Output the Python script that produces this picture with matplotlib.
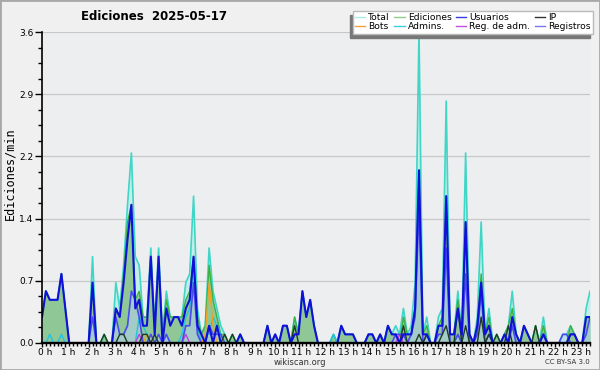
import numpy as np
import matplotlib.pyplot as plt
import matplotlib.transforms as mtransforms
from matplotlib.lines import Line2D
from matplotlib.patches import Rectangle

# 10-minute bins, values in edits per minute
n_bins = 142
hours = np.arange(n_bins) / 6

total = [
    .3, .6, .5, .5, .5, .8, .4, 0, 0, 0, 0, 0,
    0, 1.0, 0, 0, .1, 0, 0, .7, .4, .9, 1.6, 2.2,
    1.0, .9, .3, .3, 1.1, .2, 1.1, .1, .6, .3, .3, .3,
    .3, .7, .8, 1.7, .4, .1, .2, 1.1, .6, .4, .2, .1,
    0, .1, 0, .1, 0, 0, 0, 0, 0, 0, .2, 0,
    .1, 0, .2, .2, 0, .3, .1, .6, .3, .5, .2, 0,
    0, 0, 0, .1, 0, .2, .1, .1, .1, 0, 0, 0,
    .1, .1, 0, .1, 0, .2, .1, .2, .1, .4, .1, .2,
    .7, 3.6, .1, .3, 0, 0, .3, .4, 2.8, .1, .1, .6,
    .1, 2.2, .1, 0, .3, 1.4, .1, .4, 0, .1, 0, .1,
    .2, .6, .1, 0, .2, .1, 0, .2, 0, .3, 0, 0,
    0, 0, .1, .1, .2, .1, 0, 0, .4, .6,
]
edits = [
    .3, .6, .5, .5, .5, .8, .4, 0, 0, 0, 0, 0,
    0, .7, 0, 0, .1, 0, 0, .4, .3, .8, 1.4, 1.6,
    .5, .6, .3, .3, 1.0, .2, 1.0, .1, .5, .3, .3, .3,
    .3, .5, .6, 1.0, .3, .1, .2, .9, .5, .3, .1, .1,
    0, .1, 0, .1, 0, 0, 0, 0, 0, 0, .2, 0,
    .1, 0, .2, .2, 0, .3, .1, .6, .3, .5, .2, 0,
    0, 0, 0, .1, 0, .2, .1, .1, .1, 0, 0, 0,
    .1, .1, 0, .1, 0, .2, .1, .1, 0, .3, .1, .1,
    .4, 2.0, .1, .2, 0, 0, .2, .3, 1.7, .1, .1, .5,
    .1, 1.4, .1, 0, .2, .8, .1, .3, 0, .1, 0, .1,
    .2, .4, .1, 0, .2, .1, 0, .2, 0, .2, 0, 0,
    0, 0, 0, 0, .2, .1, 0, 0, .3, .3,
]
users = [
    .3, .6, .5, .5, .5, .8, .4, 0, 0, 0, 0, 0,
    0, .7, 0, 0, 0, 0, 0, .4, .3, .7, 1.2, 1.6,
    .4, .5, .2, .2, 1.0, .1, 1.0, 0, .4, .2, .3, .3,
    .2, .4, .5, 1.0, .2, .1, 0, .2, 0, .2, 0, 0,
    0, 0, 0, .1, 0, 0, 0, 0, 0, 0, .2, 0,
    .1, 0, .2, .2, 0, .1, .1, .6, .3, .5, .2, 0,
    0, 0, 0, 0, 0, .2, .1, .1, .1, 0, 0, 0,
    .1, .1, 0, .1, 0, .2, .1, .1, 0, .1, .1, .1,
    .4, 2.0, .1, .1, 0, 0, .2, .2, 1.7, .1, .1, .4,
    .1, 1.4, .1, 0, .2, .7, .1, .2, 0, 0, 0, .1,
    0, .3, .1, 0, .2, .1, 0, 0, 0, .1, 0, 0,
    0, 0, 0, 0, .1, .1, 0, 0, .3, .3,
]

# sparse series: bin index -> value
ip_bins = [16, 20, 21, 26, 27, 29, 47, 49, 65, 93, 97, 99, 103, 104, 107, 109, 113, 115, 117, 120, 127, 136, 137]
ip_vals = [.1, .1, .1, .1, .1, .1, .1, .1, .2, .2, .1, .1, .1, .2, .4, .2, .3, .1, .1, .2, .2, .1, .1]
bots_bins = [27, 42, 43, 44]
bots_vals = [.1, .1, .7, .2]
admins_bins = [2, 5, 25, 26, 27, 36, 37, 38, 39, 40, 42, 43, 44, 45, 46, 75, 107]
admins_vals = [.1, .1, .3, .2, .1, .1, .3, .4, .9, .2, .1, .1, .3, .2, .1, .1, .1]
admlogs_bins = [25, 37, 92]
admlogs_vals = [.1, .1, .1]
logs_bins = [13, 19, 20, 21, 22, 23, 24, 25, 28, 30, 32, 37, 38, 39, 40, 43, 44, 45, 46,
             91, 92, 93, 95, 96, 97, 99, 102, 103, 104, 107, 109, 112, 113, 115, 121, 129,
             134, 135, 140, 141]
logs_vals = [.3, .3, .1, .1, .2, .6, .5, .3, .1, .1, .1, .2, .2, .7, .1, .2, .1, .1, .1,
             .1, .1, .1, .1, .3, 1.6, .1, .1, .1, 1.1, .1, .8, .1, .6, .1, .2, .1,
             .1, .1, .1, .3]

labels = ['Total', 'Bots', 'Ediciones', 'Admins.', 'Usuarios', 'Reg. de adm.', 'IP', 'Registros']
legend_colors = ['#aee8e6', '#f2a03a', '#8ed08e', '#3ccfe0', '#3a3ae0', '#c24ee0', '#333333', '#7a7af0']


def expand(bins, vals):
    s = np.zeros(n_bins)
    s[bins] = vals
    return s


ip = expand(ip_bins, ip_vals)
bots = expand(bots_bins, bots_vals)
admins = expand(admins_bins, admins_vals)
admlogs = expand(admlogs_bins, admlogs_vals)
logs = expand(logs_bins, logs_vals)

fig = plt.figure(figsize=(6, 3.7), dpi=100, facecolor='#f0f0f0')
ax = fig.add_axes([42 / 600, 1 - 343 / 370, 548 / 600, 311 / 370])
ax.set_facecolor('#eceef0')

ax.fill_between(hours, total, color='#c4eeea', lw=0)
ax.fill_between(hours, edits, color='#8fc796', lw=0)
ax.fill_between(hours, logs, color='#b4d0f0', alpha=0.55, lw=0)

ax.plot(hours, total, color='#3fd6c6', lw=1.2)
ax.plot(hours, edits, color='#3cb043', lw=1.0)
ax.plot(hours, admins, color='#22c4e4', lw=1.0)
ax.plot(hours, bots, color='#f5a020', lw=1.0)
ax.plot(hours, admlogs, color='#c040e0', lw=1.0)
ax.plot(hours, logs, color='#4a4af2', lw=1.2)
ax.plot(hours, ip, color='#1e3a24', lw=1.0)
ax.plot(hours, users, color='#1010d8', lw=1.5)

ax.set_xlim(0, (n_bins - 1) / 6)
ax.set_ylim(0, 3.6)

yt = np.arange(6) * 0.72
ax.set_yticks(yt)
ax.set_yticklabels([f'{v:.1f}' for v in yt])
ax.set_yticks(np.arange(21) * 0.18, minor=True)
ax.set_xticks(np.arange(24))
ax.set_xticklabels([f'{h} h' for h in range(24)])
ax.set_xticks(np.arange(0, 23.6, 1 / 6), minor=True)

ax.yaxis.grid(True, color='#c8c8c8', lw=0.9)
ax.set_axisbelow(True)
ax.tick_params(axis='y', which='major', labelsize=6.5, length=5, width=1, color='black', pad=1)
ax.tick_params(axis='y', which='minor', length=3, width=1, color='black')
ax.tick_params(axis='x', which='major', labelsize=6.5, length=3, width=1, color='black', pad=0.5)
ax.tick_params(axis='x', which='minor', length=2.5, width=1, color='black')
for lab in ax.get_xticklabels():
    lab.set_transform(lab.get_transform() + mtransforms.ScaledTranslation(3 / 100, 0, fig.dpi_scale_trans))

for side in ['top', 'right']:
    ax.spines[side].set_visible(False)
ax.spines['left'].set_linewidth(1.2)
ax.spines['bottom'].set_linewidth(1.7)

fig.text(0.017, 0.53, 'Ediciones/min', rotation=90, family='DejaVu Sans Mono', size=8.5, va='center', ha='center')
fig.text(154 / 600, 1 - 17 / 370, 'Ediciones  2025-05-17', weight='bold', size=8.5, ha='center', va='center')
fig.text(300 / 600, 1 - 362.5 / 370, 'wikiscan.org', size=6, ha='center', va='center', color='#333333')
fig.text(590 / 600, 1 - 362.5 / 370, 'CC BY-SA 3.0', size=5, ha='right', va='center', color='#333333')

handles = [Line2D([], [], color=c, lw=1) for c in legend_colors]
leg = fig.legend(handles, labels, ncol=4, loc='upper right', bbox_to_anchor=(593 / 600, 1 - 11 / 370),
                 fontsize=6.6, frameon=True, fancybox=False, edgecolor='#bbbbbb', facecolor='white',
                 framealpha=1, handlelength=1.1, handletextpad=0.35, columnspacing=0.5,
                 labelspacing=0.0, borderpad=0.25, borderaxespad=0)

# shadow below-left of the legend box
fig.canvas.draw()
bb = leg.get_window_extent()
fig.patches.append(Rectangle(((bb.x0 - 3) / 600, (bb.y0 - 4) / 370), bb.width / 600, bb.height / 370,
                             transform=fig.transFigure, color='#777777', zorder=4))

fig.patches.append(Rectangle((0, 0), 1, 1, transform=fig.transFigure, fill=False, ec='#a8a8a8', lw=2))

fig.savefig('out.png', dpi=100, facecolor=fig.get_facecolor())
